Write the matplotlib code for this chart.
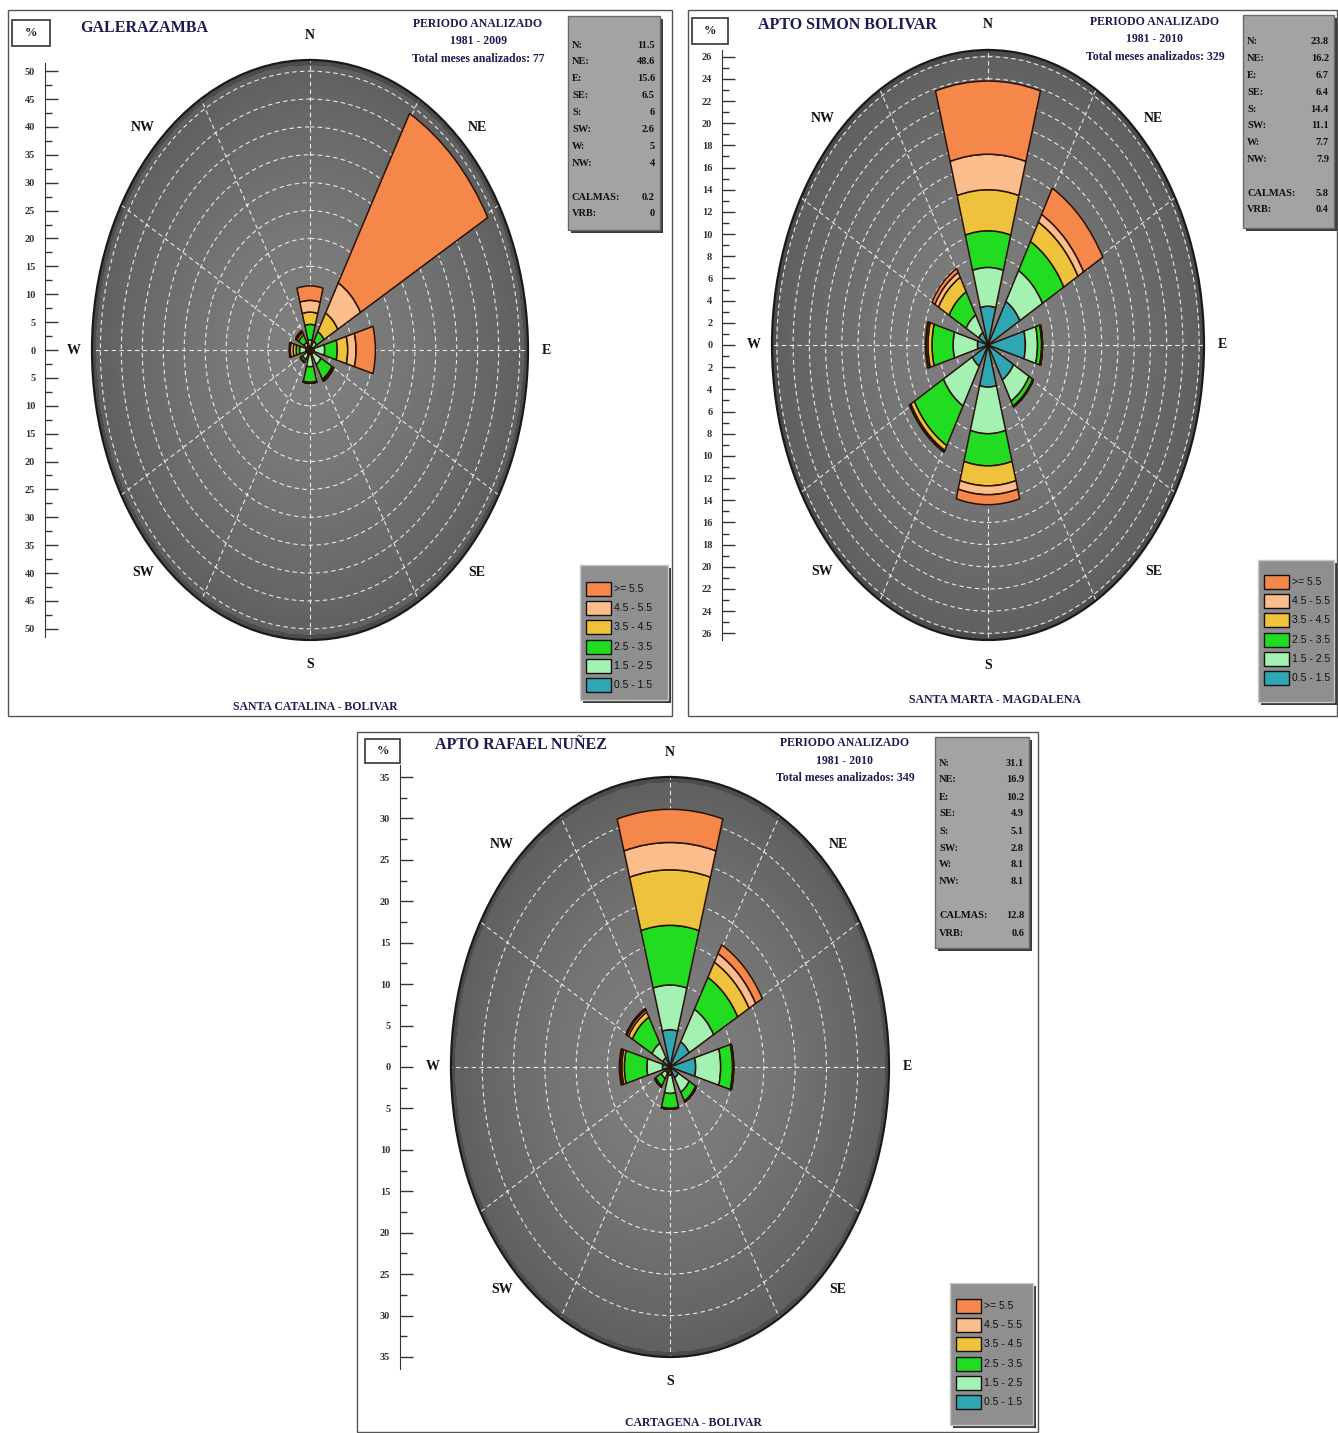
import numpy as np
import matplotlib.pyplot as plt
from matplotlib.patches import Rectangle

plt.rcParams['font.family'] = ['Liberation Serif', 'DejaVu Serif']

W_PX, H_PX = 1338, 1433

directions = ['N', 'NE', 'E', 'SE', 'S', 'SW', 'W', 'NW']
speed_labels = ['0.5 - 1.5', '1.5 - 2.5', '2.5 - 3.5', '3.5 - 4.5', '4.5 - 5.5', '>= 5.5']
speed_colors = ['#2fa7b3', '#a3f1b3', '#22dc22', '#eec23d', '#fbbd8b', '#f5874b']

# % per direction (N..NW), split by speed class, inner -> outer
galera_freq = [
    [0.6, 1.2, 2.8, 2.2, 2.1, 2.6],
    [0.6, 1.2, 2.0, 3.8, 6.2, 34.8],
    [1.0, 2.5, 3.0, 2.5, 2.0, 4.6],
    [0.8, 2.2, 3.0, 0.3, 0.1, 0.1],
    [0.8, 2.2, 2.8, 0.1, 0.05, 0.05],
    [0.8, 1.2, 0.5, 0.1, 0.0, 0.0],
    [1.0, 1.5, 0.8, 0.7, 0.7, 0.3],
    [0.8, 0.8, 1.5, 0.5, 0.3, 0.1],
]
galera_totals = [11.5, 48.6, 15.6, 6.5, 6, 2.6, 5, 4]
galera_calm, galera_vrb = 0.2, 0

simon_freq = [
    [3.5, 3.5, 3.3, 3.7, 3.2, 6.6],
    [4.5, 3.2, 3.0, 2.0, 0.8, 2.7],
    [4.6, 1.5, 0.5, 0.1, 0.0, 0.0],
    [3.6, 2.2, 0.5, 0.1, 0.0, 0.0],
    [3.8, 4.2, 2.9, 1.8, 0.8, 0.9],
    [2.2, 4.1, 4.1, 0.5, 0.1, 0.1],
    [1.3, 3.0, 2.6, 0.5, 0.2, 0.1],
    [1.3, 1.8, 2.4, 1.5, 0.5, 0.4],
]
simon_totals = [23.8, 16.2, 6.7, 6.4, 14.4, 11.1, 7.7, 7.9]
simon_calm, simon_vrb = 5.8, 0.4

rafael_freq = [
    [4.5, 5.4, 7.2, 6.7, 3.3, 4.0],
    [3.5, 4.5, 4.4, 2.1, 1.2, 1.2],
    [4.1, 4.0, 1.9, 0.1, 0.05, 0.05],
    [1.5, 2.0, 1.2, 0.1, 0.05, 0.05],
    [1.0, 2.2, 1.8, 0.1, 0.0, 0.0],
    [0.8, 0.8, 1.0, 0.2, 0.0, 0.0],
    [1.2, 2.5, 3.6, 0.4, 0.2, 0.2],
    [1.3, 2.0, 3.6, 0.7, 0.3, 0.2],
]
rafael_totals = [31.1, 16.9, 10.2, 4.9, 5.1, 2.8, 8.1, 8.1]
rafael_calm, rafael_vrb = 12.8, 0.6

navy = '#1c1c50'

fig = plt.figure(figsize=(W_PX / 100, H_PX / 100), dpi=100)


def fx(x):
    return x / W_PX


def fy(y):
    return 1 - y / H_PX


def box(x0, y0, x1, y1, **kw):
    fig.patches.append(Rectangle((fx(x0), fy(y1)), (x1 - x0) / W_PX, (y1 - y0) / H_PX,
                                 transform=fig.transFigure, **kw))


def draw_panel(p, freq, totals, calm, vrb):
    box(*p['border'], facecolor='none', edgecolor='#555555', lw=1.0)

    cx, cy = p['center']
    rx, ry = p['radii']
    rmax = p['rmax']

    ax = fig.add_axes([fx(cx - rx), fy(cy + ry), 2 * rx / W_PX, 2 * ry / H_PX],
                      projection='polar')
    ax.set_aspect('auto')
    ax.set_theta_zero_location('N')
    ax.set_theta_direction(-1)

    # shaded dial
    th = np.linspace(0, 2 * np.pi, 181)
    rr = np.linspace(0, rmax, 61)
    T, R = np.meshgrid(th, rr)
    shade = 0.50 - 0.13 * (R / rmax) ** 1.5
    shade[R > rmax * 0.975] = 0.30
    ax.pcolormesh(T, R, shade[:-1, :-1], cmap='gray', vmin=0, vmax=1,
                  shading='flat', zorder=0.1)

    ax.set_ylim(0, rmax)
    ax.set_rgrids(np.arange(p['ring'], rmax - 0.5, p['ring']), labels=[])
    ax.set_thetagrids(np.arange(0, 360, 30), labels=[])
    ax.set_axisbelow(True)
    ax.grid(color='white', linestyle=(0, (4, 3)), linewidth=0.8, alpha=0.85)
    ax.spines['polar'].set_color('#1a1a1a')
    ax.spines['polar'].set_linewidth(1.6)

    theta = np.deg2rad(np.arange(0, 360, 45))
    f = np.array(freq)
    bottom = np.zeros(len(directions))
    for k in range(len(speed_labels)):
        ax.bar(theta, f[:, k], width=np.deg2rad(31.5), bottom=bottom,
               color=speed_colors[k], edgecolor='#2a1205', linewidth=1.1, zorder=3)
        bottom += f[:, k]

    for t, name in zip(theta, directions):
        ax.text(t, rmax * 1.085, name, ha='center', va='center', fontsize=10,
                fontweight='bold', color='#111111', clip_on=False)

    # vertical % scale
    top = p['scale_top']
    sa = fig.add_axes([fx(p['scale_x']), fy(cy + ry), 0.02, 2 * ry / H_PX])
    sa.set_ylim(-rmax, rmax)
    sa.patch.set_visible(False)
    for s in ['top', 'right', 'bottom']:
        sa.spines[s].set_visible(False)
    sa.spines['left'].set_bounds(-top - p['ring'] * 0.3, top + p['ring'] * 0.3)
    sa.spines['left'].set_color('#333333')
    sa.set_xticks([])
    ticks = np.arange(-top, top + 0.01, p['ring'])
    sa.set_yticks(ticks)
    sa.set_yticklabels([f'{abs(t):g}' for t in ticks[::-1]])
    sa.set_yticks(np.arange(-top, top + 0.01, p['ring'] / 2), minor=True)
    sa.tick_params(axis='y', which='major', direction='in', length=9, width=1,
                   labelsize=7.5, pad=7, colors='#333333')
    sa.tick_params(axis='y', which='minor', direction='in', length=5, width=1,
                   colors='#333333')
    for lbl in sa.get_yticklabels():
        lbl.set_fontweight('bold')

    # "%" box and titles
    bx0, by0, bx1, by1 = p['pct']
    box(bx0, by0, bx1, by1, facecolor='white', edgecolor='#333333', lw=1.2)
    fig.text(fx((bx0 + bx1) / 2), fy((by0 + by1) / 2), '%', ha='center', va='center',
             fontsize=9, fontweight='bold', color='#222222')
    fig.text(fx(p['title'][0]), fy(p['title'][1]), p['name'], ha='left', va='center',
             fontsize=11.5, fontweight='bold', color=navy)
    px_, py_ = p['periodo']
    for i, s in enumerate(['PERIODO ANALIZADO', p['years'],
                           f"Total meses analizados: {p['months']}"]):
        fig.text(fx(px_), fy(py_ + i * 17.5), s, ha='center', va='center',
                 fontsize=8.5, fontweight='bold', color=navy)
    fig.text(fx(p['place'][0]), fy(p['place'][1]), p['place_name'], ha='center',
             va='center', fontsize=8.5, fontweight='bold', color=navy)

    # stats box
    sx0, sy0, sx1, sy1 = p['stats']
    box(sx0 + 3, sy0 + 3, sx1 + 3, sy1 + 3, facecolor='#3a3a3a', edgecolor='none')
    box(sx0, sy0, sx1, sy1, facecolor='#a3a3a3', edgecolor='#6a6a6a', lw=1)
    rows = [d + ':' for d in directions] + ['', 'CALMAS:', 'VRB:']
    vals = [f'{v:g}' for v in totals] + ['', f'{calm:g}', f'{vrb:g}']
    for i, (r, v) in enumerate(zip(rows, vals)):
        yy = p['stats_y0'] + i * p['stats_dy']
        fig.text(fx(sx0 + 4), fy(yy), r, ha='left', va='center', fontsize=7.5,
                 fontweight='bold', color='#111111')
        fig.text(fx(sx1 - 5), fy(yy), v, ha='right', va='center', fontsize=7.5,
                 fontweight='bold', color='#111111')

    # legend box
    lx0, ly0, lx1, ly1 = p['legend']
    box(lx0 + 3, ly0 + 3, lx1 + 3, ly1 + 3, facecolor='#3a3a3a', edgecolor='none')
    box(lx0, ly0, lx1, ly1, facecolor='#8f8f8f', edgecolor='#c8c8c8', lw=1)
    for i, k in enumerate(range(len(speed_labels) - 1, -1, -1)):
        yy = p['legend_y0'] + i * 19.2
        box(lx0 + 6, yy - 7, lx0 + 31, yy + 7, facecolor=speed_colors[k],
            edgecolor='#111111', lw=1)
        fig.text(fx(lx0 + 34), fy(yy), speed_labels[k], ha='left', va='center',
                 fontsize=7.5, family='Liberation Sans', color='#111111')


galera_layout = dict(border=(8, 10, 672, 716), center=(310, 350), radii=(218, 290),
                     rmax=52, ring=5, scale_top=50, scale_x=45, pct=(12, 20, 50, 46),
                     title=(80, 28), name='GALERAZAMBA', periodo=(478, 24),
                     years='1981 - 2009', months=77, place=(315, 707),
                     place_name='SANTA CATALINA - BOLIVAR', stats=(568, 16, 660, 230),
                     stats_y0=45, stats_dy=16.9, legend=(580, 565, 668, 700),
                     legend_y0=589)
simon_layout = dict(border=(688, 10, 1337, 716), center=(988, 345), radii=(216, 295),
                    rmax=26.6, ring=2, scale_top=26, scale_x=722, pct=(692, 18, 728, 44),
                    title=(758, 25), name='APTO SIMON BOLIVAR', periodo=(1155, 22),
                    years='1981 - 2010', months=329, place=(995, 700),
                    place_name='SANTA MARTA - MAGDALENA', stats=(1243, 15, 1334, 228),
                    stats_y0=42, stats_dy=16.8, legend=(1258, 560, 1334, 702),
                    legend_y0=582)
rafael_layout = dict(border=(357, 732, 1038, 1432), center=(670, 1067), radii=(219, 290),
                     rmax=35, ring=5, scale_top=35, scale_x=400, pct=(365, 739, 400, 763),
                     title=(435, 745), name='APTO RAFAEL NUÑEZ', periodo=(845, 743),
                     years='1981 - 2010', months=349, place=(693, 1423),
                     place_name='CARTAGENA - BOLIVAR', stats=(935, 737, 1029, 948),
                     stats_y0=763, stats_dy=17, legend=(950, 1283, 1033, 1425),
                     legend_y0=1306)

draw_panel(galera_layout, galera_freq, galera_totals, galera_calm, galera_vrb)
draw_panel(simon_layout, simon_freq, simon_totals, simon_calm, simon_vrb)
draw_panel(rafael_layout, rafael_freq, rafael_totals, rafael_calm, rafael_vrb)

fig.savefig('out.png', dpi=100)
